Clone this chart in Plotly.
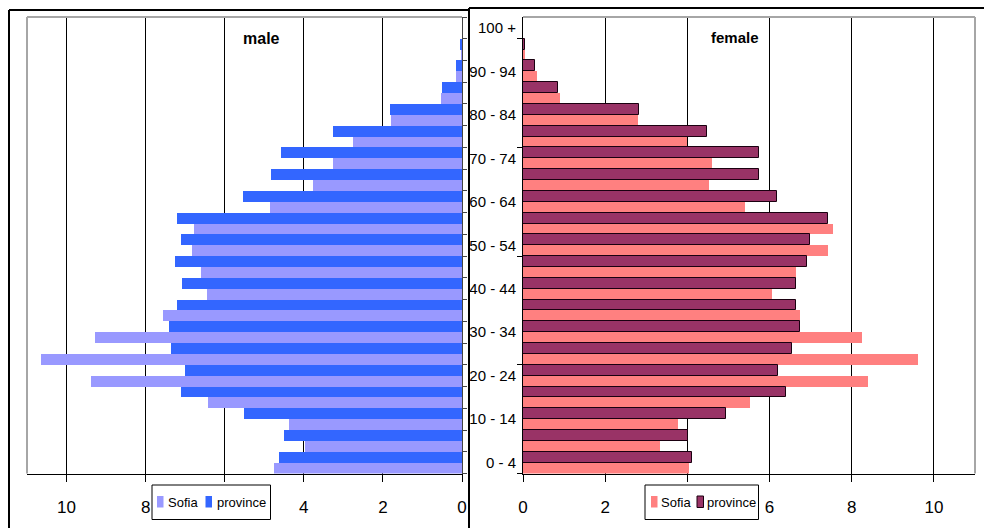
import plotly.graph_objects as go

age_groups = ["0 - 4", "5 - 9", "10 - 14", "15 - 19", "20 - 24", "25 - 29", "30 - 34",
              "35 - 39", "40 - 44", "45 - 49", "50 - 54", "55 - 59", "60 - 64", "65 - 69",
              "70 - 74", "75 - 79", "80 - 84", "85 - 89", "90 - 94", "95 - 99", "100 +"]

male_sofia = [4.75, 3.97, 4.38, 6.42, 9.37, 10.65, 9.28, 7.55, 6.45, 6.61, 6.82,
              6.77, 4.85, 3.78, 3.25, 2.76, 1.79, 0.52, 0.16, 0.01, 0.0]
male_province = [4.64, 4.49, 5.51, 7.11, 7.00, 7.37, 7.42, 7.21, 7.08, 7.27, 7.11,
                 7.21, 5.55, 4.82, 4.58, 3.25, 1.81, 0.50, 0.16, 0.03, 0.0]
female_sofia = [4.03, 3.34, 3.78, 5.53, 8.40, 9.61, 8.26, 6.74, 6.05, 6.64, 7.43,
                7.54, 5.41, 4.53, 4.59, 4.00, 2.79, 0.90, 0.33, 0.04, 0.0]
female_province = [4.12, 4.02, 4.94, 6.39, 6.20, 6.54, 6.73, 6.64, 6.64, 6.91, 6.98,
                   7.43, 6.19, 5.75, 5.75, 4.47, 2.83, 0.86, 0.30, 0.05, 0.01]

x_ticks = [0, 2, 4, 6, 8, 10]
# tick labels hidden behind the legend boxes in the reference
male_tick_text = ["0", "2", "4", "", "8", "10"]
female_tick_text = ["0", "2", "", "6", "8", "10"]

series_names = ["Sofia", "province"]
male_colors = ["#9999FF", "#3366FF"]
female_colors = ["#FF8080", "#993366"]

FONT = "Liberation Sans, Arial, sans-serif"

pos = list(range(len(age_groups)))
label_pos = pos[::2]
label_text = age_groups[::2]
boundaries_all = [p - 0.5 for p in pos] + [pos[-1] + 0.5]
boundaries_5 = [p - 0.5 for p in pos[::5]]

W, H = 984, 528


def px(x):
    return x / W


def py(y):
    return 1 - y / H


fig = go.Figure()

fig.add_trace(go.Bar(y=pos, x=male_sofia, orientation="h", name=series_names[0],
                     marker=dict(color=male_colors[0], line=dict(width=0)),
                     xaxis="x", yaxis="y", showlegend=False))
fig.add_trace(go.Bar(y=pos, x=male_province, orientation="h", name=series_names[1],
                     marker=dict(color=male_colors[1], line=dict(width=0)),
                     xaxis="x", yaxis="y", showlegend=False))
fig.add_trace(go.Bar(y=pos, x=female_sofia, orientation="h", name=series_names[0],
                     marker=dict(color=female_colors[0], line=dict(width=0)),
                     xaxis="x2", yaxis="y2", showlegend=False))
fig.add_trace(go.Bar(y=pos, x=female_province, orientation="h", name=series_names[1],
                     marker=dict(color=female_colors[1], line=dict(width=1, color="#1a0010")),
                     xaxis="x2", yaxis="y2", showlegend=False))

ydom = [py(473.5), py(17)]

common_x = dict(tickvals=x_ticks, showgrid=True, gridcolor="#000000", gridwidth=1,
                showline=True, linecolor="#000000", linewidth=1,
                ticks="outside", ticklen=7, tickcolor="#000000",
                tickfont=dict(family=FONT, size=17, color="#000000"),
                ticklabelstandoff=11,
                zeroline=False, fixedrange=True, automargin=False)

fig.update_layout(
    width=W, height=H,
    margin=dict(l=0, r=0, t=0, b=0, autoexpand=False),
    paper_bgcolor="white", plot_bgcolor="white",
    barmode="group", bargap=0, bargroupgap=0,
    font=dict(family=FONT, color="#000000"),
    showlegend=False,
    xaxis=dict(domain=[px(27), px(462)], range=[11, 0], anchor="y",
               ticktext=male_tick_text, **common_x),
    yaxis=dict(domain=ydom, range=[-0.5, 20.5], anchor="x", side="right",
               showline=True, linecolor="#444444", linewidth=1,
               tickvals=boundaries_all, ticks="outside", ticklen=4, tickcolor="#444444",
               showticklabels=False, showgrid=False, zeroline=False, fixedrange=True,
               automargin=False),
    xaxis2=dict(domain=[px(523), px(975)], range=[0, 11], anchor="y2",
                ticktext=female_tick_text, **common_x),
    yaxis2=dict(domain=ydom, range=[-0.5, 20.5], anchor="x2", side="left",
                showline=True, linecolor="#000000", linewidth=1,
                tickvals=label_pos, ticktext=label_text, ticks="",
                tickfont=dict(family=FONT, size=15, color="#000000"),
                ticklabelstandoff=3,
                minor=dict(tickvals=boundaries_5, ticks="outside", ticklen=5,
                           tickcolor="#000000", showgrid=False),
                showgrid=False, zeroline=False, fixedrange=True, automargin=False),
)

# titles
fig.add_annotation(text="<b>male</b>", xref="paper", yref="paper", x=px(261), y=py(38),
                   xanchor="center", yanchor="middle",
                   showarrow=False, font=dict(family=FONT, size=16, color="#000000"))
fig.add_annotation(text="<b>female</b>", xref="paper", yref="paper", x=px(735), y=py(37),
                   xanchor="center", yanchor="middle",
                   showarrow=False, font=dict(family=FONT, size=15, color="#000000"))

# grey plot-area borders
grey = dict(color="#a6a6a6", width=2)
fig.add_shape(type="line", xref="x domain", yref="y domain", x0=0, x1=1, y0=1, y1=1, line=grey)
fig.add_shape(type="line", xref="x domain", yref="y domain", x0=0, x1=0, y0=0, y1=1, line=grey)
fig.add_shape(type="line", xref="x2 domain", yref="y2 domain", x0=0, x1=1, y0=1, y1=1, line=grey)
fig.add_shape(type="line", xref="x2 domain", yref="y2 domain", x0=1, x1=1, y0=0, y1=1, line=grey)

# black outer frames of the two pictures
blk = dict(color="#000000", width=2)
fig.add_shape(type="line", xref="paper", yref="paper", x0=px(9), x1=px(469),
              y0=py(10), y1=py(10), line=blk)
fig.add_shape(type="line", xref="paper", yref="paper", x0=px(9), x1=px(9),
              y0=0, y1=py(10), line=blk)
fig.add_shape(type="line", xref="paper", yref="paper", x0=px(469), x1=px(469),
              y0=0, y1=py(8), line=blk)
fig.add_shape(type="line", xref="paper", yref="paper", x0=px(469), x1=1,
              y0=py(8), y1=py(8), line=blk)


# legend boxes (Excel-style, compact)
def add_legend(box_x0, box_x1, sw1_x, txt1_x, sw2_x, txt2_x, colors, outline2):
    fig.add_shape(type="rect", xref="paper", yref="paper", layer="above",
                  x0=px(box_x0), x1=px(box_x1), y0=py(519.5), y1=py(485),
                  fillcolor="white", line=dict(color="#000000", width=1))
    fig.add_shape(type="rect", xref="paper", yref="paper", layer="above",
                  x0=px(sw1_x), x1=px(sw1_x + 6.5), y0=py(507.5), y1=py(496),
                  fillcolor=colors[0], line=dict(width=0))
    fig.add_shape(type="rect", xref="paper", yref="paper", layer="above",
                  x0=px(sw2_x), x1=px(sw2_x + 6.5), y0=py(507.5), y1=py(496),
                  fillcolor=colors[1],
                  line=dict(width=1 if outline2 else 0, color="#1a0010"))
    for tx, name in ((txt1_x, series_names[0]), (txt2_x, series_names[1])):
        fig.add_annotation(text=name, xref="paper", yref="paper", x=px(tx), y=py(502),
                           xanchor="left", yanchor="middle", showarrow=False,
                           font=dict(family=FONT, size=13, color="#000000"))


add_legend(152, 270.5, 157, 166, 205.5, 214.5, male_colors, False)
add_legend(645, 758.5, 651, 658.5, 697, 705, female_colors, True)

fig.write_html("out.html",
               config={"displayModeBar": False},
               post_script="document.body.style.margin='0';document.body.style.overflow='hidden';")
